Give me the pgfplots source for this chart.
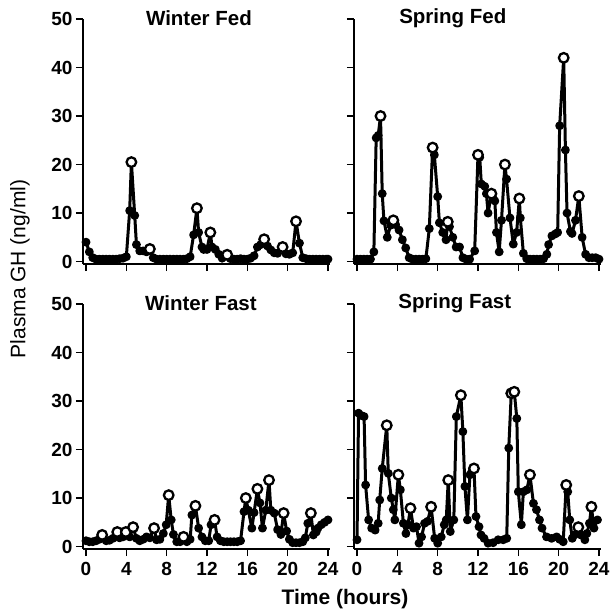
\documentclass[border=0pt]{standalone}
\usepackage{fontspec}
\setmainfont{Liberation Sans}
\usepackage{pgfplots}
\pgfplotsset{compat=1.18}
\usepgfplotslibrary{groupplots}

\pgfplotsset{
 gh/.style={scale only axis, width=247pt, height=245pt,
   xmin=-0.3, xmax=24.2, ymin=-0.5, ymax=50,
   xtick={0,4,...,24}, ytick={0,10,...,50},
   axis x line*=bottom, axis y line*=left,
   axis line style={line width=2pt, -},
   tick style={line width=1.6pt, black},
   major tick length=7pt, tick align=outside,
   tick label style={font=\fontsize{19}{20}\selectfont\bfseries},
   xticklabel style={yshift=-3pt},
   /pgf/number format/assume math mode=true, clip=false},
 series/.style={black, line width=3pt, line join=round, mark=*, mark size=3.4pt, mark options={solid, fill=black, line width=2pt}},
 peaks/.style={only marks, mark=*, mark size=4.8pt, mark options={line width=2.3pt, fill=white, draw=black}},
}
\tikzset{ttl/.style={font=\fontsize{20.5}{22}\selectfont\bfseries}}

\begin{document}
\begin{tikzpicture}
\begin{groupplot}[group style={group size=2 by 2, horizontal sep=24pt, vertical sep=40pt,
   xticklabels at=edge bottom, yticklabels at=edge left}, gh]

% Winter Fed
\nextgroupplot
\coordinate (TL) at (rel axis cs:0,1);
\addplot[series] coordinates {
(0,4) (0.33,2) (0.67,0.8) (1,0.5) (1.33,0.5) (1.67,0.5) (2,0.5) (2.33,0.5) (2.67,0.5) (3,0.5) (3.33,0.6) (3.67,0.7)
(4.0,1.0) (4.33,10.5) (4.5,20.5) (4.83,9.5) (5.0,3.5) (5.33,2.2) (5.67,2.2) (6.0,2.0) (6.33,2.6) (6.67,0.8)
(7,0.5) (7.33,0.5) (7.67,0.5) (8,0.5) (8.33,0.5) (8.67,0.5) (9,0.5) (9.33,0.5) (9.67,0.5) (10,0.6) (10.33,1.0)
(10.67,5.5) (11.0,11.0) (11.17,6.0) (11.5,3) (11.67,2.5) (12.0,2.5) (12.33,6.0) (12.5,3.0) (12.83,2.5) (13.17,1.5)
(13.5,0.7) (14.0,1.4) (14.33,0.6) (14.67,0.5) (15,0.5) (15.33,0.6) (15.67,0.5) (16,0.5) (16.33,0.7) (16.67,1.2)
(17.0,3.0) (17.33,3.5) (17.67,4.6) (18.0,3.2) (18.33,2.4) (18.67,1.8) (19.0,1.7) (19.5,3.0) (19.83,1.6) (20.17,1.5)
(20.5,1.8) (20.83,8.3) (21.17,3.8) (21.5,0.8) (21.83,0.6) (22.17,0.5) (22.5,0.5) (22.83,0.5) (23.17,0.5) (23.5,0.5)
(23.83,0.5) (24,0.5)};
\addplot[peaks] coordinates {(4.5,20.5) (6.33,2.6) (11.0,11.0) (12.33,6.0) (14.0,1.4) (17.67,4.6) (19.5,3.0) (20.83,8.3)};
\node[ttl] at (axis cs:11.2,50.2) {Winter Fed};

% Spring Fed
\nextgroupplot
\addplot[series] coordinates {
(0,0.5) (0.33,0.5) (0.67,0.5) (1,0.5) (1.33,0.5) (1.67,2.0) (1.9,25.5) (2.1,26) (2.33,30) (2.5,14) (2.67,8.4)
(3.0,5.0) (3.33,7.5) (3.6,8.5) (3.83,7.6) (4.17,6.5) (4.5,4.5) (4.83,2.8) (5.17,0.8) (5.5,0.5) (5.83,0.5) (6.17,0.5)
(6.5,0.5) (6.83,0.6) (7.17,6.8) (7.5,23.5) (7.67,22) (8.0,13.4) (8.17,8.0) (8.5,6.0) (8.83,4.5) (9.0,8.2) (9.17,7.2)
(9.5,5.0) (9.83,3.0) (10.17,3.0) (10.5,0.8) (10.83,0.5) (11.17,0.5) (11.67,2.2) (12.0,22) (12.17,21.5) (12.33,16)
(12.67,15.5) (12.83,14) (13.0,10) (13.33,14) (13.5,13) (13.67,12.5) (13.83,6) (14.1,2.0) (14.33,8.5) (14.67,20)
(14.83,17) (15.17,9) (15.5,3.6) (15.83,6.0) (16.1,13) (16.2,9) (16.5,1.7) (16.83,0.6) (17.17,0.5) (17.5,0.5)
(17.83,0.5) (18.17,0.5) (18.5,0.6) (18.83,1.5) (19.0,3.5) (19.33,5.3) (19.67,5.7) (19.9,6.0) (20.1,28) (20.5,42)
(20.67,23) (20.83,10) (21.17,6.2) (21.33,5.8) (21.67,8.5) (22.0,13.5) (22.33,5.0) (22.67,1.5) (23,0.8) (23.33,0.8)
(23.67,0.8) (24,0.5)};
\addplot[peaks] coordinates {(2.33,30) (3.6,8.5) (7.5,23.5) (9.0,8.2) (12.0,22) (13.33,14) (14.67,20) (16.1,13) (20.5,42) (22.0,13.5)};
\node[ttl] at (axis cs:9.5,50.2) {Spring Fed};

% Winter Fast
\nextgroupplot
\addplot[series] coordinates {
(0,1.2) (0.33,1.0) (0.67,1.0) (1.0,1.2) (1.33,1.5) (1.6,2.4) (2.0,1.2) (2.33,1.3) (2.67,1.7) (3.1,3.0) (3.33,1.8)
(3.67,2.0) (3.95,3.0) (4.33,2.0) (4.67,4.0) (5.0,1.7) (5.33,1.2) (5.67,1.5) (6.0,2.0) (6.33,1.8) (6.75,3.8) (7.0,1.4)
(7.33,1.5) (7.67,2.7) (7.95,4.5) (8.2,10.6) (8.45,5.5) (8.67,2.5) (9.0,1.0) (9.33,1.0) (9.67,2.0) (10.0,1.0)
(10.33,1.5) (10.5,6.5) (10.85,8.4) (11.17,3.8) (11.5,2.0) (11.83,1.2) (12.17,1.2) (12.4,4.5) (12.75,5.5) (13.0,2.0)
(13.33,1.2) (13.67,1.0) (14.0,1.0) (14.33,1.0) (14.67,1.0) (15.0,1.0) (15.33,1.2) (15.67,7.2) (15.85,10) (16.1,7.5)
(16.45,3.8) (16.67,7.0) (17.0,11.9) (17.25,9.0) (17.5,3.8) (17.83,7.5) (18.15,13.7) (18.33,7.5) (18.67,6.9)
(19.0,3.5) (19.33,2.5) (19.6,6.9) (19.9,3.2) (20.17,1.5) (20.5,0.8) (20.83,0.8) (21.17,0.8) (21.5,1.0) (21.75,1.8)
(22.0,4.8) (22.3,6.9) (22.55,2.4) (22.83,3.0) (23.0,3.8) (23.33,4.5) (23.67,5.0) (24.0,5.5)};
\addplot[peaks] coordinates {(1.6,2.4) (3.1,3.0) (3.95,3.0) (4.67,4.0) (6.75,3.8) (8.2,10.6) (9.67,2.0) (10.85,8.4) (12.75,5.5) (15.85,10) (17.0,11.9) (18.15,13.7) (19.6,6.9) (22.3,6.9)};
\node[ttl] at (axis cs:11.4,50.2) {Winter Fast};

% Spring Fast
\nextgroupplot
\addplot[series] coordinates {
(0,1.4) (0.15,27.5) (0.45,27) (0.7,26.8) (0.85,12.7) (1.15,5.5) (1.45,3.8) (1.8,3.4) (2.1,4.8) (2.25,9.6) (2.5,16.1)
(2.95,25) (3.1,15.1) (3.4,10) (3.6,7.6) (3.75,5.5) (4.1,14.8) (4.3,11.7) (4.6,4.8) (4.85,2.7) (5.05,4.5) (5.3,7.9)
(5.6,3.8) (5.9,4.1) (6.15,0.7) (6.4,2.0) (6.7,4.8) (7.0,5.2) (7.35,8.2) (7.7,1.7) (8.0,0.7) (8.35,2.0) (8.65,4.5)
(8.85,5.5) (9.05,13.7) (9.25,3.1) (9.6,5.5) (9.85,26.8) (10.3,31.2) (10.5,23.7) (10.7,12.4) (10.95,5.5) (11.2,14.8)
(11.4,15.5) (11.6,16.1) (11.8,6.2) (12.1,4.1) (12.3,2.4) (12.6,1.7) (13.0,0.7) (13.5,0.8) (14.0,1.4) (14.5,1.4)
(14.85,1.7) (15.05,20.3) (15.3,31.6) (15.6,31.9) (15.85,26.4) (16.0,11.3) (16.3,4.5) (16.5,11.3) (16.85,11.7)
(17.15,14.8) (17.5,8.9) (17.8,7.6) (18.1,5.5) (18.35,3.8) (18.8,2.0) (19.3,1.7) (19.8,2.0) (20.1,1.5) (20.45,1.0)
(20.75,12.7) (20.9,11.3) (21.1,5.5) (21.35,1.7) (21.55,2.4) (21.95,4.0) (22.2,2.4) (22.6,1.4) (22.8,2.7) (23.05,4.8)
(23.25,8.2) (23.5,3.8) (23.85,5.5)};
\addplot[peaks] coordinates {(2.95,25) (4.1,14.8) (5.3,7.9) (7.35,8.2) (9.05,13.7) (10.3,31.2) (11.6,16.1) (15.3,31.6) (15.6,31.9) (17.15,14.8) (20.75,12.7) (21.95,4.0) (23.25,8.2)};
\node[ttl] at (axis cs:9.7,50.2) {Spring Fast};
\end{groupplot}
\node[font=\fontsize{21}{23}\selectfont, rotate=90] at ([xshift=-63pt,yshift=-250pt]TL) {Plasma GH (ng/ml)};
\node[font=\fontsize{21}{23}\selectfont\bfseries] at ([xshift=262pt,yshift=-580pt]TL) {Time (hours)};
\pgfresetboundingbox
\path[use as bounding box] ([xshift=-83pt,yshift=19pt]TL) rectangle ++(614pt,-611pt);
\end{tikzpicture}
\end{document}
